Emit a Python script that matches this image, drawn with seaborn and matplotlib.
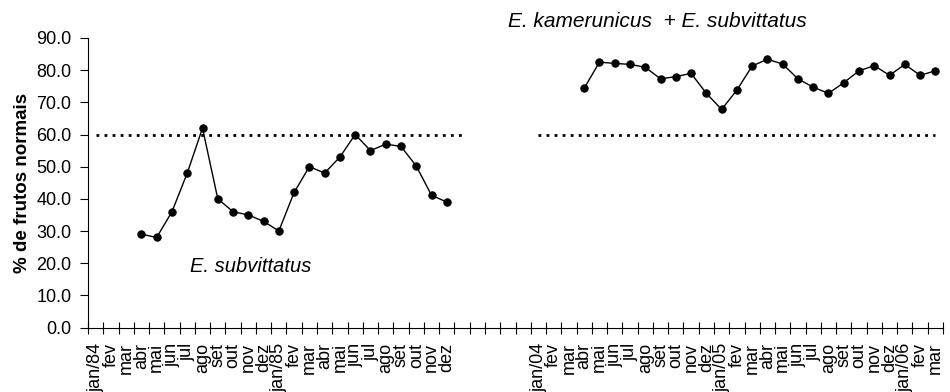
import matplotlib
matplotlib.use("Agg")
import matplotlib.pyplot as plt
import seaborn as sns
import numpy as np
import pandas as pd

# ---- data ----
months = ["jan", "fev", "mar", "abr", "mai", "jun", "jul", "ago", "set", "out", "nov", "dez"]
categories = (["jan/84"] + months[1:] + ["jan/85"] + months[1:]
              + ["", "", "", "", ""]
              + ["jan/04"] + months[1:] + ["jan/05"] + months[1:] + ["jan/06", "fev", "mar"])

sub_start = 3  # abr/84
sub_values = [29, 28, 36, 48, 62, 40, 36, 35, 33, 30,
              42, 50, 48, 53, 60, 55, 57, 56.3, 50.2, 41.1, 39]

kam_start = 32  # abr/04
kam_values = [74.4, 82.5, 82.1, 81.8, 80.9, 77.3, 78.0, 79.0, 72.8, 67.8,
              73.8, 81.3, 83.4, 81.9, 77.3, 74.7, 72.8, 76.1, 79.8, 81.4,
              78.4, 81.8, 78.4, 79.8]

threshold = 60
thr1_range = (0, 24)
thr2_range = (29, 55)

label_sub = "E. subvittatus"
label_kam = "E. kamerunicus  + E. subvittatus"
ylabel = "% de frutos normais"

# ---- build frames ----
df_sub = pd.DataFrame({"x": np.arange(sub_start, sub_start + len(sub_values)), "y": sub_values})
df_kam = pd.DataFrame({"x": np.arange(kam_start, kam_start + len(kam_values)), "y": kam_values})
df_t1 = pd.DataFrame({"x": np.arange(thr1_range[0], thr1_range[1] + 1)})
df_t1["y"] = threshold
df_t2 = pd.DataFrame({"x": np.arange(thr2_range[0], thr2_range[1] + 1)})
df_t2["y"] = threshold

sns.set_style("white")
plt.rcParams["font.family"] = ["Liberation Sans", "DejaVu Sans"]
plt.rcParams.update({"text.color": "black", "axes.labelcolor": "black",
                     "xtick.color": "black", "ytick.color": "black"})

fig = plt.figure(figsize=(9.5, 3.92), dpi=100)
ax = fig.add_axes([88 / 950, 1 - 327.5 / 392, (943 - 88) / 950, (327.5 - 38) / 392])

for d in (df_t1, df_t2):
    sns.lineplot(data=d, x="x", y="y", ax=ax, color="black", linewidth=2.0,
                 dashes=False, linestyle=(0, (1.0, 1.9)))
for d in (df_sub, df_kam):
    sns.lineplot(data=d, x="x", y="y", ax=ax, color="black", linewidth=1.0,
                 marker="o", markersize=5.3, markeredgecolor="black",
                 markerfacecolor="black")

ax.set_xlim(-0.5, len(categories) - 0.5)
ax.set_ylim(0, 90)
ax.set_yticks(np.arange(0, 91, 10))
ax.set_yticklabels([f"{v:.1f}" for v in np.arange(0, 91, 10)], fontsize=13, color="black")

ax.set_xticks(np.arange(len(categories)))
ax.set_xticklabels(categories, rotation=90, fontsize=13, va="top", ha="center", color="black")
ax.set_xticks(np.arange(len(categories) + 1) - 0.5, minor=True)
ax.tick_params(axis="x", which="major", length=0, pad=11, bottom=True)
ax.tick_params(axis="x", which="minor", direction="inout", length=9, width=0.8,
               color="black", bottom=True)
ax.tick_params(axis="y", which="major", direction="out", length=6, width=0.8,
               color="black", left=True, pad=6)

for s in ("top", "right"):
    ax.spines[s].set_visible(False)
for s in ("left", "bottom"):
    ax.spines[s].set_color("black")
    ax.spines[s].set_linewidth(0.8)

ax.set_xlabel("")
ax.set_ylabel(ylabel, fontsize=13.5, fontweight="bold", labelpad=4, color="black")
ax.grid(False)

ax.text(6.18, 17.1, label_sub, fontsize=14.5, style="italic", ha="left", va="baseline",
        color="black")
ax.text(27.0, 93.5, label_kam, fontsize=15, style="italic", ha="left", va="baseline",
        clip_on=False, color="black")

fig.savefig("out.png", dpi=100)
